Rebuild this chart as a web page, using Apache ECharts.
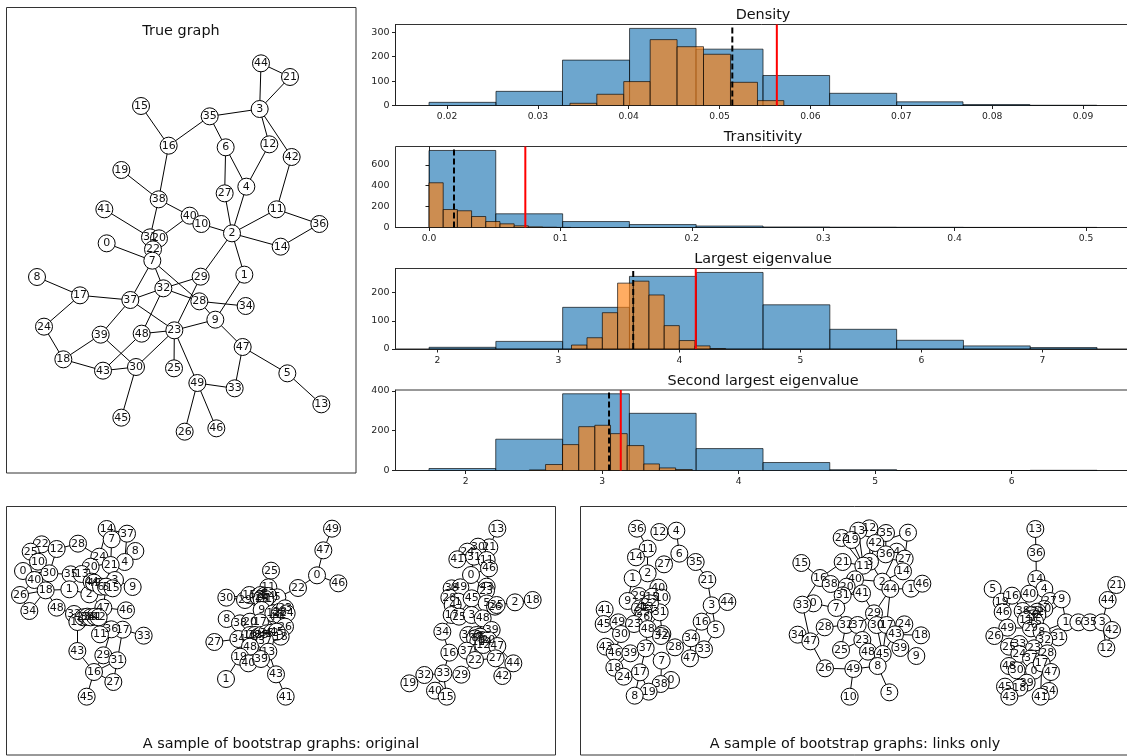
<!DOCTYPE html>
<html><head><meta charset="utf-8">
<style>html,body{margin:0;padding:0;background:#fff}#c{width:1127px;height:756px}</style>
<script src="https://cdn.jsdelivr.net/npm/echarts@6/dist/echarts.min.js"></script></head>
<body><div id="c"></div>
<script>
// ---- histogram data (bin edges and counts) ----
const densityBlueEdges=[0.01802,0.02539,0.03271,0.04009,0.04741,0.05478,0.06211,0.06949,0.07679,0.08414,0.09152];
const densityBlueCounts=[13,58,186,316,231,123,50,15,4,1];
const densityOrangeEdges=[0.03353,0.03649,0.03945,0.04236,0.04532,0.04823,0.05120,0.05417,0.05707];
const densityOrangeCounts=[9,46,98,270,241,210,95,20];
const densityTicks=[0.02,0.03,0.04,0.05,0.06,0.07,0.08,0.09];
const densityYTicks=[0,100,200,300];
const transBlueEdges=[0,0.0508,0.1017,0.1525,0.2033,0.2542,0.3050,0.3558,0.4067,0.4575,0.5083];
const transBlueCounts=[737,131,57,28,14,5,3,2,1,1];
const transOrangeEdges=[0,0.0108,0.0216,0.0324,0.0432,0.0540,0.0648,0.0756,0.0864,0.0972,0.108];
const transOrangeCounts=[428,172,160,105,57,35,16,6,3,1];
const transTicks=[0,0.1,0.2,0.3,0.4,0.5];
const transYTicks=[0,200,400,600];
const largestBlueEdges=[1.932,2.484,3.036,3.588,4.140,4.692,5.244,5.796,6.348,6.900,7.452];
const largestBlueCounts=[6,27,148,258,272,157,70,31,11,5];
const largestOrangeEdges=[3.109,3.237,3.364,3.490,3.620,3.749,3.875,4.000,4.129,4.254,4.383];
const largestOrangeCounts=[14,40,129,234,241,192,83,30,11,1];
const largestTicks=[2,3,4,5,6,7];
const largestYTicks=[0,100,200];
const secondBlueEdges=[1.731,2.220,2.710,3.199,3.688,4.178,4.667,5.157,5.646,6.135,6.625];
const secondBlueCounts=[10,157,385,287,110,40,4,0,0,1];
const secondOrangeEdges=[2.466,2.585,2.709,2.828,2.946,3.061,3.183,3.305,3.419,3.538,3.660];
const secondOrangeCounts=[3,30,130,220,227,185,125,33,13,5];
const secondTicks=[2,3,4,5,6];
const secondYTicks=[0,200,400];
const refDensity={sample:0.0514,truth:0.0563,yMax:332,xMin:0.01433,xMax:0.09539};
const refTrans={sample:0.0190,truth:0.0733,yMax:775,xMin:-0.0255,xMax:0.535};
const refLargest={sample:3.619,truth:4.136,yMax:286,xMin:1.6545,xMax:7.741};
const refSecond={sample:3.05,truth:3.136,yMax:404,xMin:1.4857,xMax:6.881};

// ---- graph data: [node, layoutX, layoutY] and [node,node] links ----
const trueNodes=[[44,783,190],[21,870,231],[3,779,327],[15,423,318],[35,629,349],[16,506,437],[6,677,442],[12,808,433],[42,875,471],[19,364,510],[4,739,560],[27,674,580],[38,476,598],[41,313,628],[11,830,628],[40,569,647],[10,604,672],[36,958,672],[2,696,700],[31,450,712],[20,477,715],[0,320,730],[14,842,740],[22,459,748],[7,457,782],[29,602,830],[1,733,824],[8,111,831],[17,240,886],[37,391,900],[32,490,865],[28,598,904],[34,737,918],[9,646,959],[24,132,980],[39,302,1004],[48,425,1001],[23,523,991],[47,728,1041],[18,190,1078],[43,309,1112],[30,408,1101],[25,522,1105],[5,862,1120],[49,592,1149],[33,704,1165],[13,964,1213],[45,364,1253],[26,554,1295],[46,649,1285]];
const trueEdges=[[44,21],[44,3],[21,3],[3,35],[3,12],[3,42],[35,16],[35,6],[15,16],[16,38],[6,27],[6,4],[12,4],[42,11],[19,38],[38,40],[38,31],[4,2],[27,2],[10,2],[11,2],[11,36],[36,14],[2,14],[41,31],[40,20],[10,40],[2,29],[2,1],[0,7],[31,7],[20,22],[22,7],[7,37],[7,32],[7,28],[29,32],[29,23],[32,37],[32,28],[32,48],[28,34],[28,9],[1,9],[9,23],[9,47],[8,17],[17,37],[17,24],[24,18],[37,39],[37,23],[39,18],[39,30],[48,23],[48,43],[23,30],[23,25],[23,49],[18,43],[43,30],[30,45],[47,5],[47,33],[5,13],[49,33],[49,26],[49,46]];
const sampleANodes=[[14,320,87],[37,381,101],[7,335,118],[8,406,153],[22,125,133],[25,92,155],[12,170,147],[28,234,131],[24,298,170],[10,114,185],[4,374,186],[21,332,195],[20,272,200],[0,69,213],[30,148,220],[35,212,223],[13,245,222],[3,345,240],[9,398,261],[40,103,240],[26,60,285],[18,137,271],[1,208,268],[2,268,283],[44,275,245],[49,282,248],[6,303,260],[5,318,260],[15,338,265],[34,88,333],[48,170,323],[47,310,323],[46,378,331],[32,222,342],[33,431,407],[17,368,389],[36,334,388],[19,232,366],[23,250,352],[38,262,350],[39,272,352],[41,285,350],[42,296,352],[11,300,403],[43,232,453],[29,310,466],[31,352,481],[16,282,516],[27,340,546],[45,260,590]];
const sampleAEdges=[[14,24],[14,37],[7,37],[7,21],[37,4],[8,4],[4,21],[21,24],[24,28],[28,12],[12,22],[22,25],[25,10],[12,30],[10,30],[30,35],[0,30],[0,40],[40,26],[40,18],[26,34],[26,18],[18,34],[18,1],[18,30],[18,48],[35,13],[1,2],[2,47],[20,24],[21,5],[3,9],[3,21],[47,46],[47,38],[47,5],[48,32],[32,23],[23,38],[38,39],[39,41],[41,42],[42,47],[19,23],[19,43],[43,16],[16,29],[16,27],[16,45],[16,31],[31,27],[31,17],[29,36],[17,33],[36,11],[11,42],[17,42],[13,44],[44,49],[49,6],[15,3],[20,13]];
const sampleBNodes=[[49,426,86],[47,400,151],[0,381,226],[46,445,250],[22,324,264],[25,243,212],[11,235,262],[5,262,292],[30,109,293],[29,165,300],[15,178,285],[2,205,290],[3,212,285],[4,218,292],[6,224,287],[7,230,293],[14,235,288],[16,215,297],[21,226,297],[9,215,330],[44,258,350],[12,250,340],[28,270,335],[31,268,345],[23,285,325],[24,290,340],[26,285,380],[8,110,357],[38,150,370],[20,180,365],[17,210,367],[34,145,417],[27,73,426],[18,272,410],[10,180,405],[32,195,405],[33,205,410],[35,215,405],[36,230,400],[42,245,398],[45,260,395],[37,225,422],[13,235,455],[48,180,440],[19,150,470],[40,175,490],[39,213,477],[43,258,523],[41,287,590],[1,108,537]];
const sampleBEdges=[[49,47],[47,0],[0,46],[0,22],[22,5],[25,11],[11,5],[11,2],[30,29],[29,3],[30,15],[8,38],[38,20],[20,17],[9,17],[9,3],[44,12],[44,23],[24,28],[5,23],[5,6],[27,34],[34,32],[34,38],[32,33],[33,35],[35,36],[36,42],[42,45],[45,18],[18,37],[37,10],[10,48],[48,19],[48,13],[19,40],[19,1],[40,39],[39,13],[39,43],[43,41],[43,37],[26,18],[26,45],[24,31],[31,44],[17,37],[20,32],[2,3],[3,4],[4,6],[6,7],[7,14],[14,16],[16,21],[21,5],[15,2],[29,9],[28,26]];
const sampleCNodes=[[13,352,86],[21,328,142],[30,294,140],[24,262,155],[31,282,170],[11,320,180],[41,232,178],[46,327,205],[0,273,225],[43,320,260],[23,318,272],[38,215,265],[49,241,262],[28,208,293],[1,235,305],[4,218,315],[45,275,295],[5,320,310],[26,345,320],[35,350,315],[2,405,307],[18,458,300],[17,215,345],[25,237,350],[3,275,345],[48,308,355],[39,335,390],[34,187,395],[36,265,405],[6,290,405],[7,300,410],[8,285,415],[9,305,420],[10,295,425],[14,315,425],[20,325,420],[16,208,458],[37,260,452],[12,310,435],[47,352,438],[27,347,475],[22,285,480],[44,400,490],[42,367,528],[29,244,524],[33,190,520],[32,133,525],[19,88,550],[40,165,572],[15,200,590]];
const sampleCEdges=[[13,21],[21,30],[30,24],[24,31],[31,41],[31,0],[30,11],[11,46],[46,0],[46,43],[43,23],[0,23],[23,45],[45,49],[49,38],[38,28],[28,4],[4,1],[1,45],[1,25],[25,17],[17,34],[34,16],[16,33],[16,37],[33,32],[32,19],[33,40],[33,15],[40,15],[29,22],[22,36],[37,36],[3,25],[3,48],[48,39],[48,5],[5,23],[5,26],[35,26],[35,2],[2,18],[39,6],[6,7],[7,8],[8,9],[9,10],[10,14],[14,20],[20,39],[12,47],[47,44],[47,27],[27,42],[12,36],[12,6],[44,42],[27,22],[3,49]];
const sampleDNodes=[[36,186,86],[12,253,96],[4,304,92],[11,218,146],[14,183,172],[6,313,161],[27,267,193],[35,362,186],[2,218,220],[1,173,235],[21,397,240],[40,250,263],[29,192,288],[15,232,290],[10,260,293],[9,158,303],[3,410,316],[44,457,306],[41,89,329],[31,254,337],[20,195,325],[13,215,320],[22,225,310],[25,205,335],[26,205,350],[16,380,365],[5,422,388],[45,86,372],[49,130,367],[23,177,372],[48,218,387],[30,138,402],[42,262,402],[32,258,408],[34,348,415],[43,92,440],[46,119,458],[39,166,460],[37,212,445],[28,300,442],[33,387,448],[47,345,475],[7,260,482],[18,118,503],[24,146,530],[17,195,517],[0,288,540],[38,257,552],[19,221,575],[8,179,587]];
const sampleDEdges=[[36,11],[11,14],[11,2],[2,27],[27,6],[6,4],[12,4],[6,35],[35,21],[21,3],[3,44],[3,16],[3,5],[16,5],[16,34],[5,33],[34,33],[34,28],[34,47],[28,42],[28,7],[7,38],[7,37],[38,0],[38,19],[19,17],[17,8],[17,37],[17,24],[24,18],[18,46],[18,39],[46,43],[46,30],[30,49],[30,45],[45,41],[49,23],[39,37],[37,48],[48,31],[42,31],[31,40],[40,2],[2,1],[1,9],[9,29],[29,13],[13,22],[22,25],[25,26],[26,23],[15,13],[10,22],[20,25],[32,48],[15,31],[10,40]];
const sampleENodes=[[12,313,85],[13,280,92],[35,363,99],[6,429,98],[22,230,114],[19,260,120],[42,331,129],[4,395,155],[36,362,163],[27,419,176],[3,315,185],[11,295,197],[21,233,186],[15,109,189],[14,414,214],[16,165,234],[40,270,238],[2,352,245],[44,376,267],[1,438,266],[46,472,251],[38,197,252],[20,245,260],[41,291,280],[31,233,286],[0,145,310],[33,112,314],[7,214,324],[29,327,340],[32,243,375],[37,278,375],[30,335,375],[17,365,375],[24,418,373],[28,179,382],[43,390,403],[18,468,406],[34,98,404],[47,136,424],[23,292,420],[25,228,450],[39,406,444],[48,309,455],[45,353,462],[9,454,468],[8,338,498],[26,180,505],[49,265,507],[10,254,590],[5,373,577]];
const sampleEEdges=[[13,11],[19,11],[22,11],[12,3],[42,3],[35,36],[6,27],[6,42],[36,3],[4,27],[4,2],[27,14],[14,2],[3,2],[11,21],[21,16],[15,16],[16,33],[16,38],[38,20],[40,20],[40,2],[40,41],[41,31],[31,20],[31,7],[7,0],[0,33],[33,47],[34,47],[47,28],[47,26],[28,32],[7,32],[26,49],[49,10],[49,8],[49,48],[8,5],[8,45],[44,2],[44,29],[44,1],[1,46],[41,29],[29,37],[29,30],[30,17],[17,44],[24,43],[43,18],[43,45],[43,39],[39,9],[32,37],[37,23],[23,25],[23,48],[32,25],[30,45],[17,45]];
const sampleFNodes=[[13,256,87],[36,258,159],[14,259,237],[4,283,267],[21,499,255],[5,128,267],[19,155,305],[16,186,287],[40,238,281],[27,300,303],[9,335,298],[44,473,300],[46,158,336],[38,218,333],[10,283,327],[22,262,335],[2,262,345],[20,245,345],[7,250,355],[15,255,365],[11,228,360],[1,348,367],[6,385,367],[35,420,367],[3,457,367],[42,486,390],[12,469,445],[49,172,383],[26,133,408],[29,243,385],[8,275,395],[31,325,412],[32,283,420],[25,177,440],[33,208,432],[23,252,445],[28,292,460],[24,208,462],[37,243,475],[48,177,498],[30,200,511],[0,252,512],[17,275,490],[47,303,516],[39,230,548],[18,208,563],[45,165,560],[34,297,573],[43,178,590],[41,272,590]];
const sampleFEdges=[[13,36],[36,14],[14,4],[14,40],[4,27],[27,9],[9,1],[1,6],[6,35],[35,3],[3,44],[44,21],[3,42],[3,12],[42,12],[5,19],[19,46],[16,19],[16,38],[40,38],[10,4],[27,10],[38,29],[26,49],[49,29],[26,25],[25,33],[33,24],[24,37],[23,37],[23,32],[32,31],[32,28],[28,37],[37,0],[0,17],[17,47],[47,34],[17,41],[41,34],[30,48],[30,39],[39,18],[18,45],[45,43],[48,24],[0,39],[22,10],[2,22],[20,2],[7,20],[15,7],[11,15],[29,11],[8,15],[8,32],[1,8]];

// ---- labels ----
const panelTitles=['True graph','A sample of bootstrap graphs: original','A sample of bootstrap graphs: links only'];
const histTitles=['Density','Transitivity','Largest eigenvalue','Second largest eigenvalue'];

// ---- option assembly ----
const FONT='"DejaVu Sans", sans-serif';
const BLUE='#1f77b4', ORANGE='#ff7f0e';
const grids=[],xAxes=[],yAxes=[],series=[],titles=[];
function zipBars(edges,counts){return counts.map((c,i)=>[edges[i],edges[i+1],c]);}
function renderBar(params,api){
  const a=api.coord([api.value(0),api.value(2)]);
  const b=api.coord([api.value(1),0]);
  return {type:'rect',shape:{x:a[0],y:a[1],width:b[0]-a[0],height:b[1]-a[1]},
    style:{fill:api.visual('color'),stroke:'#000',lineWidth:1,opacity:0.65}};
}
function hist(i,top,height,ref,be,bc,oe,oc,xt,yt,dec){
  grids.push({left:395.5,top:top,width:736.5,height:height,outerBoundsMode:'none',show:true,borderColor:'#333',borderWidth:1,backgroundColor:'transparent'});
  xAxes.push({type:'value',gridIndex:i,min:ref.xMin,max:ref.xMax,splitLine:{show:false},
    axisLine:{show:true,onZero:false,lineStyle:{color:'#222',width:1}},
    axisTick:{show:true,length:3.5,lineStyle:{color:'#222',width:1},customValues:xt},
    axisLabel:{fontFamily:FONT,fontSize:9.2,color:'#222',margin:7,customValues:xt,formatter:v=>(+v).toFixed(dec)}});
  yAxes.push({type:'value',gridIndex:i,min:0,max:ref.yMax,splitLine:{show:false},
    axisLine:{show:true,lineStyle:{color:'#222',width:1}},
    axisTick:{show:true,length:3.5,lineStyle:{color:'#222',width:1},customValues:yt},
    axisLabel:{fontFamily:FONT,fontSize:9.5,color:'#222',margin:6,customValues:yt,formatter:v=>String(v)}});
  [[be,bc,BLUE],[oe,oc,ORANGE]].forEach(([e,c,col],k)=>series.push({type:'custom',xAxisIndex:i,yAxisIndex:i,z:2+k,clip:true,silent:true,
    itemStyle:{color:col},encode:{x:[0,1],y:2},renderItem:renderBar,data:zipBars(e,c)}));
  series.push({type:'line',xAxisIndex:i,yAxisIndex:i,z:5,symbol:'none',silent:true,
    lineStyle:{color:'#000',width:2,type:[6,3]},data:[[ref.sample,0],[ref.sample,ref.yMax*0.97]]});
  series.push({type:'line',xAxisIndex:i,yAxisIndex:i,z:6,symbol:'none',silent:true,
    lineStyle:{color:'#f00',width:2},data:[[ref.truth,0],[ref.truth,ref.yMax]]});
}
hist(0,24.5,81,refDensity,densityBlueEdges,densityBlueCounts,densityOrangeEdges,densityOrangeCounts,densityTicks,densityYTicks,2);
hist(1,146.5,81,refTrans,transBlueEdges,transBlueCounts,transOrangeEdges,transOrangeCounts,transTicks,transYTicks,1);
hist(2,268.5,80.5,refLargest,largestBlueEdges,largestBlueCounts,largestOrangeEdges,largestOrangeCounts,largestTicks,largestYTicks,0);
hist(3,390,80.5,refSecond,secondBlueEdges,secondBlueCounts,secondOrangeEdges,secondOrangeCounts,secondTicks,secondYTicks,0);
[[0,3.5],[1,125.5],[2,247.5],[3,369.5]].forEach(([i,t])=>titles.push({text:histTitles[i],left:758,top:t,textAlign:'center',
  textStyle:{fontFamily:FONT,fontSize:14.4,fontWeight:'normal',color:'#111'}}));

function hiddenAxes(idx,xMax,yMax){
  xAxes.push({type:'value',gridIndex:idx,show:false,min:0,max:xMax});
  yAxes.push({type:'value',gridIndex:idx,show:false,min:0,max:yMax,inverse:true});
}
function frame(l,t,w,h){
  const idx=grids.length;
  grids.push({left:l,top:t,width:w,height:h,outerBoundsMode:'none',show:true,borderColor:'#333',borderWidth:1,backgroundColor:'transparent'});
  hiddenAxes(idx,1,1);
}
frame(6.5,7.5,349.5,465.5);
frame(6.5,506.5,549,248.5);
frame(580.5,506.5,549,248.5);
titles.push({text:panelTitles[0],left:176,top:19,textAlign:'center',textStyle:{fontFamily:FONT,fontSize:14.4,fontWeight:'normal',color:'#111'}});
titles.push({text:panelTitles[1],left:276,top:732,textAlign:'center',textStyle:{fontFamily:FONT,fontSize:14.4,fontWeight:'normal',color:'#111'}});
titles.push({text:panelTitles[2],left:850,top:732,textAlign:'center',textStyle:{fontFamily:FONT,fontSize:14.4,fontWeight:'normal',color:'#111'}});

function network(l,t,w,h,xMax,yMax,nodes,edges){
  const idx=grids.length;
  grids.push({left:l,top:t,width:w,height:h,outerBoundsMode:'none',show:false});
  hiddenAxes(idx,xMax,yMax);
  series.push({type:'graph',coordinateSystem:'cartesian2d',xAxisIndex:idx,yAxisIndex:idx,layout:'none',silent:true,z:3,
    symbol:'circle',symbolSize:17,edgeSymbol:['none','none'],animation:false,
    itemStyle:{color:'#fff',borderColor:'#000',borderWidth:1,opacity:1},
    lineStyle:{color:'#000',width:1,opacity:1,curveness:0},
    label:{show:true,position:'inside',formatter:'{b}',fontFamily:FONT,fontSize:11,color:'#111'},
    labelLayout:{hideOverlap:false},
    data:nodes.map(n=>({name:String(n[0]),value:[n[1],n[2]]})),
    links:edges.map(e=>({source:String(e[0]),target:String(e[1])}))});
}
network(0,0,360,480,1080,1440,trueNodes,trueEdges);
network(0,500,190,256,570,768,sampleANodes,sampleAEdges);
network(190,500,190,256,570,768,sampleBNodes,sampleBEdges);
network(380,500,190,256,570,768,sampleCNodes,sampleCEdges);
network(575,500,190,256,570,768,sampleDNodes,sampleDEdges);
network(765,500,190,256,570,768,sampleENodes,sampleEEdges);
network(950,500,177,256,531,768,sampleFNodes,sampleFEdges);

const chart=echarts.init(document.getElementById('c'),null,{renderer:'canvas'});
chart.setOption({animation:false,backgroundColor:'#fff',title:titles,grid:grids,xAxis:xAxes,yAxis:yAxes,series:series});
</script></body></html>
